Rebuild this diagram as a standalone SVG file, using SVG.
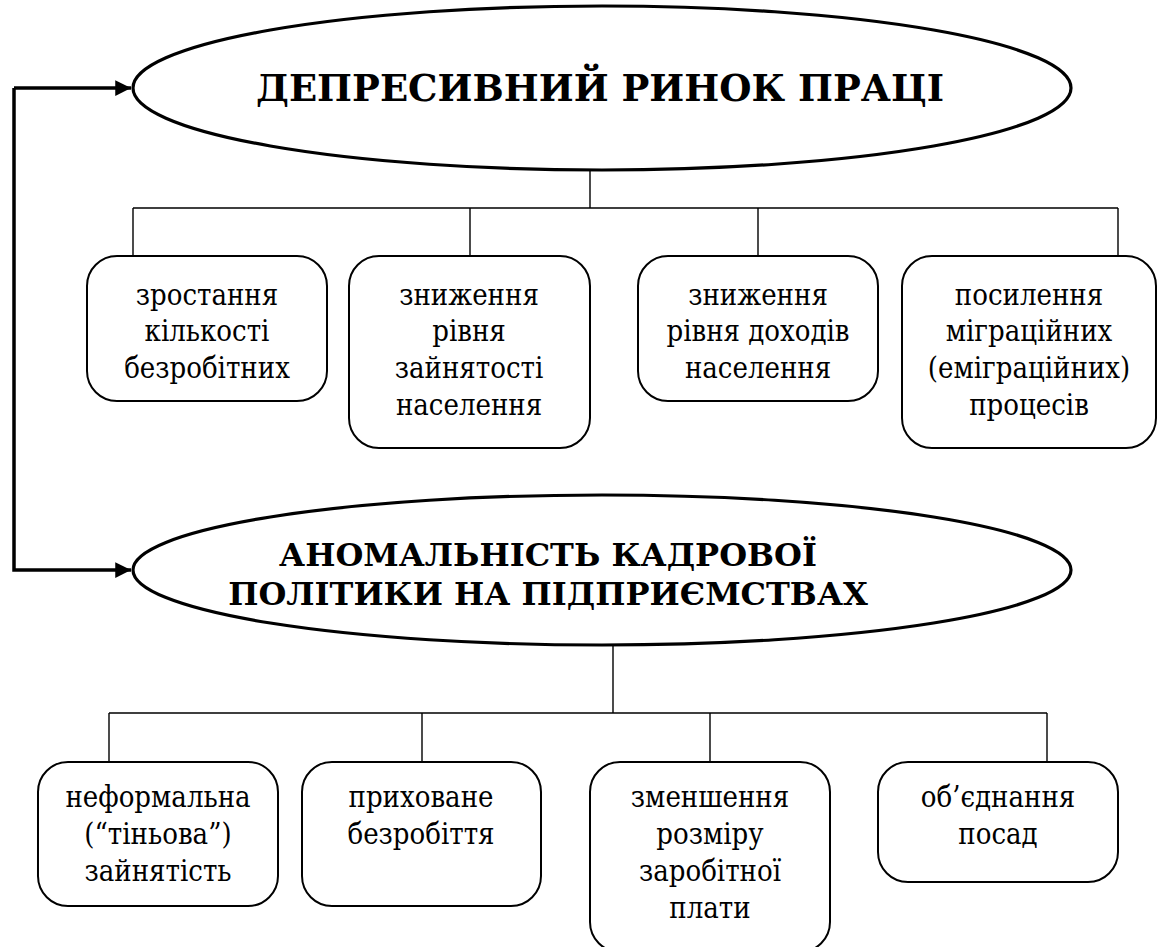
<svg xmlns="http://www.w3.org/2000/svg" width="1158" height="947" viewBox="0 0 1158 947">
<defs>
<style>
.ell{fill:#fff;stroke:#000;stroke-width:3.2}
.box{fill:#fff;stroke:#000;stroke-width:2}
.ln{fill:none;stroke:#000;stroke-width:1.4}
.arr{fill:none;stroke:#000;stroke-width:3.5}
.t{font-family:'DejaVu Serif Condensed','DejaVu Serif',serif;font-stretch:condensed;font-size:29px;text-anchor:middle;fill:#000}
.h{font-family:'DejaVu Serif',serif;font-weight:bold;text-anchor:middle;fill:#000}
</style>
<marker id="ah" viewBox="0 0 10 10" refX="10" refY="5" markerWidth="4.5" markerHeight="4.5" markerUnits="strokeWidth" orient="auto">
<path d="M0,0 L10,5 L0,10 z" fill="#000"/>
</marker>
</defs>
<rect width="1158" height="947" fill="#fff"/>
<g id="connectors">
<path class="arr" d="M14,88 V570 H131" marker-end="url(#ah)"/>
<path class="arr" d="M14,88 H131" marker-end="url(#ah)"/>
<path class="ln" d="M590,170 V208 M133,208 H1118 M133,208 V256 M470,208 V256 M758,208 V256 M1118,208 V256"/>
<path class="ln" d="M613,645 V713 M109,713 H1047 M109,713 V762 M422,713 V762 M710,713 V762 M1047,713 V762"/>
</g>
<g id="n-depr">
<ellipse class="ell" cx="602" cy="88" rx="469" ry="82"/>
<text class="h" font-size="37" x="600" y="101">ДЕПРЕСИВНИЙ РИНОК ПРАЦІ</text>
</g>
<g id="n-anom">
<ellipse class="ell" cx="602" cy="570" rx="469" ry="75"/>
<text class="h" font-size="32" x="548" y="566">АНОМАЛЬНІСТЬ КАДРОВОЇ</text>
<text class="h" font-size="32" x="548" y="605">ПОЛІТИКИ НА ПІДПРИЄМСТВАХ</text>
</g>
<g id="n1">
<rect class="box" x="87" y="256" width="240" height="145" rx="30"/>
<text class="t" x="207" y="305">зростання</text>
<text class="t" x="207" y="341">кількості</text>
<text class="t" x="207" y="378">безробітних</text>
</g>
<g id="n2">
<rect class="box" x="349" y="256" width="241" height="192" rx="30"/>
<text class="t" x="469" y="305">зниження</text>
<text class="t" x="469" y="341">рівня</text>
<text class="t" x="469" y="378">зайнятості</text>
<text class="t" x="469" y="415">населення</text>
</g>
<g id="n3">
<rect class="box" x="638" y="256" width="240" height="145" rx="30"/>
<text class="t" x="758" y="305">зниження</text>
<text class="t" x="758" y="341">рівня доходів</text>
<text class="t" x="758" y="378">населення</text>
</g>
<g id="n4">
<rect class="box" x="902" y="256" width="254" height="192" rx="30"/>
<text class="t" x="1029" y="305">посилення</text>
<text class="t" x="1029" y="341">міграційних</text>
<text class="t" x="1029" y="378">(еміграційних)</text>
<text class="t" x="1029" y="415">процесів</text>
</g>
<g id="n5">
<rect class="box" x="38" y="762" width="240" height="144" rx="30"/>
<text class="t" x="158" y="807">неформальна</text>
<text class="t" x="158" y="844">(“тіньова”)</text>
<text class="t" x="158" y="881">зайнятість</text>
</g>
<g id="n6">
<rect class="box" x="302" y="762" width="239" height="144" rx="30"/>
<text class="t" x="421" y="807">приховане</text>
<text class="t" x="421" y="844">безробіття</text>
</g>
<g id="n7">
<rect class="box" x="590" y="762" width="240" height="190" rx="30"/>
<text class="t" x="710" y="807">зменшення</text>
<text class="t" x="710" y="844">розміру</text>
<text class="t" x="710" y="881">заробітної</text>
<text class="t" x="710" y="918">плати</text>
</g>
<g id="n8">
<rect class="box" x="878" y="762" width="240" height="120" rx="30"/>
<text class="t" x="998" y="807">об’єднання</text>
<text class="t" x="998" y="844">посад</text>
</g>
</svg>
